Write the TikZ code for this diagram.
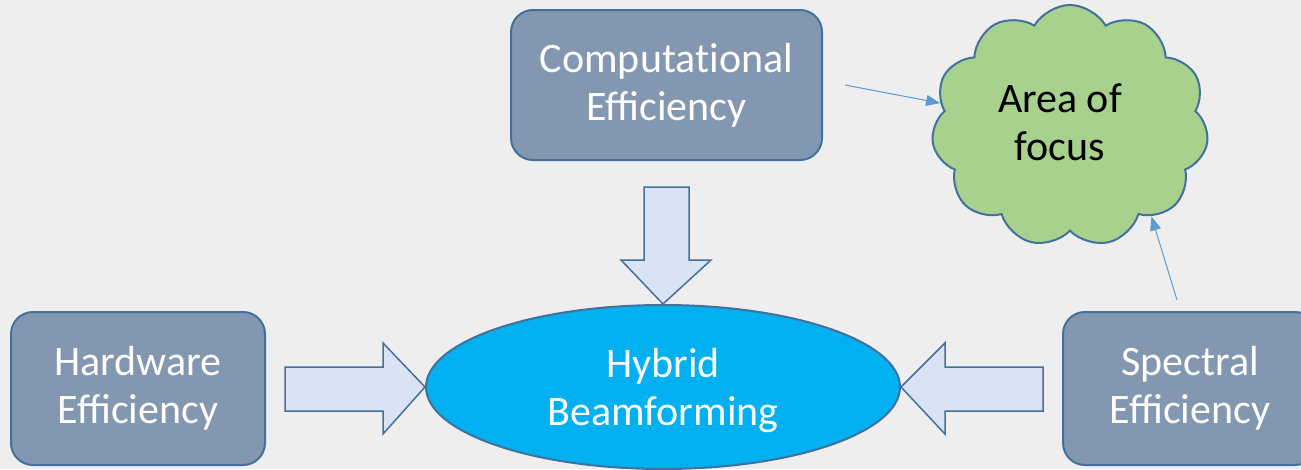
\documentclass[tikz,border=0pt]{standalone}
\usepackage{fontspec}
\setmainfont{Carlito}
\usetikzlibrary{shapes.geometric,shapes.symbols,arrows.meta}
\definecolor{bg}{HTML}{EEEEEE}
\definecolor{boxfill}{HTML}{8497B0}
\definecolor{edge}{HTML}{41719C}
\definecolor{ellfill}{HTML}{00B0F0}
\definecolor{arrfill}{HTML}{DAE3F3}
\definecolor{cloudfill}{HTML}{A9D18E}
\definecolor{thinblue}{HTML}{5B9BD5}
\begin{document}
\begin{tikzpicture}[x=1pt,y=-1pt,
  big/.style={font=\fontsize{42}{48}\selectfont, align=center},
  box/.style={big, draw=edge, line width=2pt, fill=boxfill, rounded corners=22pt, text=white, inner sep=0pt},
  blockarrow/.style={draw=edge, line width=1.5pt, fill=arrfill, line join=miter},
  pointer/.style={draw=thinblue, line width=1pt, -{Triangle[length=14pt,width=11pt]}}]
\fill[bg] (0,0) rectangle (1301,469);
\useasboundingbox (0,0) rectangle (1301,469);
\clip (0,0) rectangle (1301,469);
\node[box, minimum width=254pt, minimum height=153pt] (hw) at (138,388.5) {Hardware\\Efficiency};
\node[box, minimum width=311pt, minimum height=150pt] (ce) at (666.5,85) {Computat\kern0pt ional\\Efficiency};
\node[box, minimum width=254pt, minimum height=153pt] (se) at (1190,388.5) {Spectral\\Efficiency};
\node[ellipse, draw=edge, line width=2pt, fill=ellfill, minimum width=474pt, minimum height=164pt, inner sep=0pt] (hb) at (663,387) {};
\node[big, text=white, inner sep=0pt] (hbl) at (663,391) {Hybrid\\Beamforming};
\node[cloud, cloud puffs=11, cloud puff arc=120, draw=edge, line width=2pt, fill=cloudfill, minimum width=277pt, minimum height=242pt, inner sep=0pt] (af) at (1070,126) {};
\node[big, text=black, inner sep=0pt] (afl) at (1060,122) {Area of\\focus};
\draw[blockarrow] (285,367) -- (383,367) -- (383,343) -- (hb.west) -- (383,434) -- (383,411) -- (285,411) -- cycle;
\draw[blockarrow] (1043,367) -- (945,367) -- (945,343) -- (hb.east) -- (945,434) -- (945,411) -- (1043,411) -- cycle;
\draw[blockarrow] (644,187) -- (689,187) -- (689,260) -- (711,260) -- (hb.north) -- (621,260) -- (644,260) -- cycle;
\coordinate (p1) at (845,85);
\coordinate (p2) at (1177,300);
\draw[pointer] (p1) -- (af.170);
\draw[pointer] (p2) -- (af.-48);
\end{tikzpicture}
\end{document}
